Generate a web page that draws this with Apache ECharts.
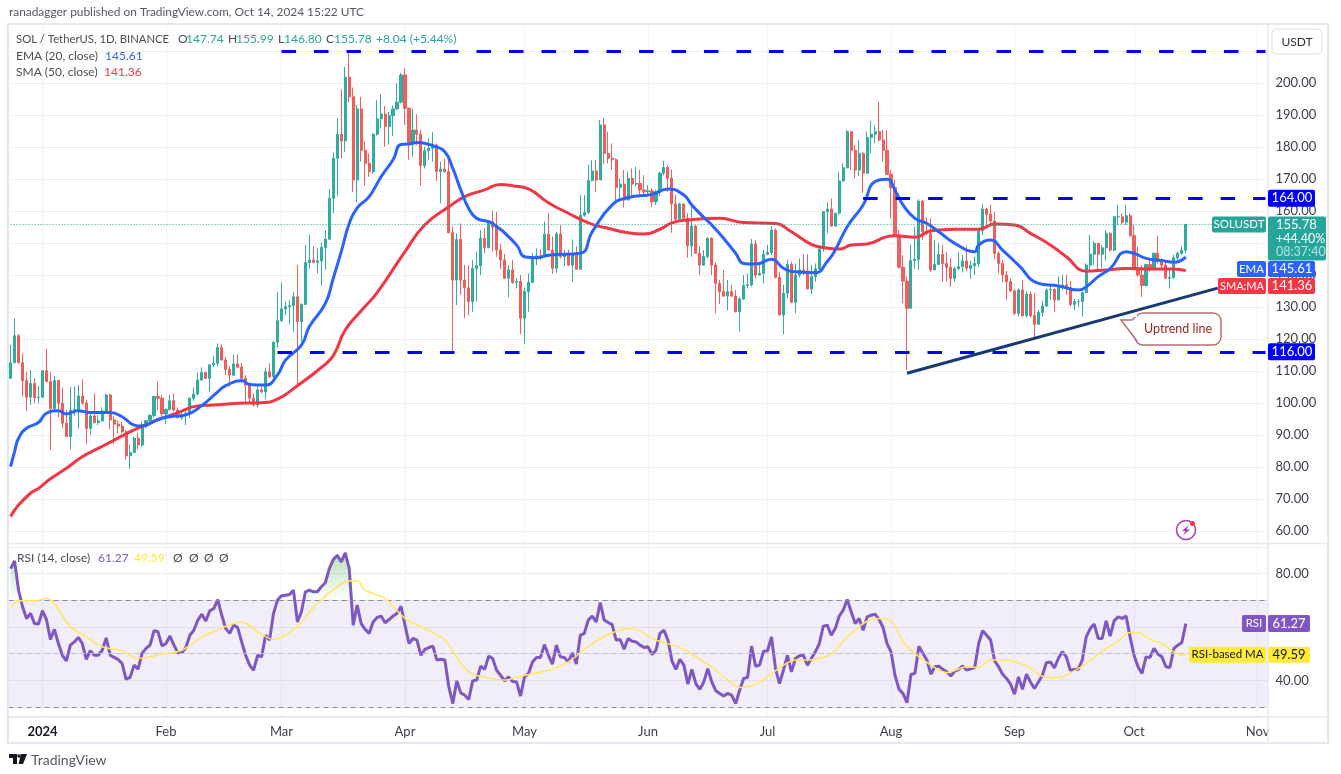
<!DOCTYPE html>
<html>
<head>
<meta charset="utf-8">
<style>
  html, body { margin: 0; background: #fff; }
  #chart { width: 1341px; height: 774px; }
</style>
<script src="https://cdn.jsdelivr.net/npm/echarts@6/dist/echarts.min.js"></script>
</head>
<body>
<div id="chart"></div>
<script>
// SOL / USDT daily, first candle is 2023-12-24
const firstOpen = 107.7
const closes = [
  112.6,121,112.6,107,101.8,106.1,101.7,101.8,110.1,106.7,
  98.3,107,99.9,93.7,89.5,97.8,98,102.2,100,92.1,
  95.9,93.9,94.4,97.5,102.5,94.7,93.4,92.8,91,83.5,
  84.5,89,86.9,93.1,94.5,96.1,102,101.5,96.6,98,
  100.7,97.8,95.4,96.1,96.8,101.5,102.8,107.2,109.5,107.7,
  111.9,112.4,117.3,113.4,110.5,108.7,112.2,111.2,107.7,105.6,
  101.5,99.4,104.1,103.5,109.8,108.2,119,125.7,129.4,130.1,
  130.4,133.2,125.4,130.8,143.9,144.7,144,144.4,148.6,151.2,
  164,176.5,184,181.9,201.8,195.7,169.7,191.9,179,174.9,
  172.3,184,188.8,190.3,186.4,189.8,191.9,194,202.5,192.1,
  181.1,185.3,184,174.2,178.8,179.6,180.6,172.3,173.1,172.3,
  153.2,138.4,151.1,138.4,136,131.7,142.1,142.9,151.5,148.6,
  156.7,154.9,147.8,144.7,139,141.6,137.7,138,126.5,134.8,
  137.7,145.2,146,145.7,152.7,147.8,142.1,152.8,145.7,146.2,
  143.1,146.2,141.8,158.7,159.5,169.5,172.5,169.7,186.9,178,
  176.5,176,167.4,168.4,163.4,170.2,168.4,168.6,166.6,166,
  166.3,162.9,166,171.8,173.6,170.2,162.2,157.4,162.2,157.7,
  149.1,155.3,146.8,143.1,145.8,151.5,143.1,137.4,134.8,133.4,
  134.8,133.4,128.5,132.5,136.7,136.9,149.7,140,140.5,146.5,
  147,154,139.2,127.5,134.3,143.3,131.5,140,141.6,141.3,
  135.6,139.5,141.9,148.1,159.8,160.6,155.3,159.3,169.4,173.5,
  184.8,179,172.8,178,171.8,183,184,184.8,182.2,179,
  171.5,167.3,152.5,142.4,138.1,129.6,144.5,144.9,163.1,153.5,
  153,141.6,143.3,146.4,143.6,142.4,139,142,142.6,144.4,
  142.1,142.9,143.6,153.8,160.6,159,156.9,146.8,143.6,140,
  137.9,135,128,135.3,127.3,134,127.3,124.6,128.3,130.3,
  135.3,135.5,132.2,136.4,136.9,136,130.8,131.7,131.7,134.5,
  143.1,146.5,149.9,146.5,148.5,153,147.8,158.2,158.2,156.5,
  158.5,152.3,142.3,140,136.7,143.3,141.9,146.8,144.2,143.1,
  139,139.2,145.4,146.8,147.74,155.78
]
const highs = [
  118.1,126.5,121.6,115.5,109.8,110.3,107.7,105.3,110.2,116.8,
  109.8,108.4,107.2,104.8,97.8,105.1,105.1,105.6,107.4,101,
  96.8,103,96.2,98.6,103,103,95.9,94.7,94.2,91.6,
  86.9,89.5,90.7,94.2,94.7,96.6,102.2,106.7,102.5,98.3,
  102.5,103,98.6,97.8,97.3,101.7,104.9,109.5,111.1,109.8,
  112.2,114.8,118.6,118.3,114.3,111.5,115,115.2,112.4,108.7,
  106.4,103,106,105.3,111,112.4,119.2,134.6,137.7,131.7,
  132.2,134.8,143.1,131.1,149.4,152.7,149,148.3,150.1,154,
  166.8,178.3,189,198,205.1,210,198.6,193.1,195.7,181.7,
  178,184.2,194.7,196.5,192.8,191,192.9,199.9,203.2,204.6,
  192.3,191.9,190.2,185.3,180.1,182.7,184.6,181.1,175.4,176.3,
  176,155.1,153,156.1,143.1,143.1,144.7,147.3,154,154.6,
  157.2,160.1,159.8,149.7,146.6,143.1,144.7,139,140,136.1,
  140.5,146.8,148.3,148,156.7,159.3,152,153.4,155.6,147.8,
  147.8,151.1,149,165,165,174.4,175.9,175.9,188.4,189,
  184.8,181.1,176.5,170.2,172.8,172.3,173.3,173.8,172.8,171.2,
  168.1,167.1,166.6,172.3,175.7,174.4,173,165,162.6,162.4,
  159.3,161.9,155.6,149,147.8,151.7,151.8,143.9,138.5,141.6,
  138.4,136.9,135.3,133.2,140,140.5,151.3,150.9,143.6,147.8,
  149.4,155.3,154.6,141,136.9,144.7,144.2,143.6,145.2,146.5,
  146.5,143.1,143.6,148.5,160,162.7,163.9,159.3,172.3,174.9,
  185.3,185,180.6,182.2,178.3,184.8,188.1,186.7,194.2,185.3,
  185.3,172.8,169.7,154,146.2,139.5,149.4,155.1,163.7,163.4,
  158,157.7,150.9,149.9,149.4,147.3,145.2,142.6,147.3,146.3,
  148.9,144.5,145.7,154.1,162.1,161,161.9,159.8,147.3,144.7,
  141.3,139,135.6,135.8,138.4,135,134.8,134.3,129.1,131.9,
  135.8,136.9,135.8,139.5,140,140,138.1,132.5,132.5,134.8,
  143.6,152.5,150.6,149.9,149.4,154.1,153.3,158.3,161.9,159.3,
  161.9,159.3,155.6,148.9,143.1,143.6,145.2,146.8,152.3,145.2,
  144.7,141.9,146.3,147.3,148.9,155.99
]
const lows = [
  107.7,112.4,112.4,102,97.5,99.4,99.9,99.9,101.8,106.4,
  85.3,97.3,95.5,92.1,89.5,85.5,96,92,99.3,87.2,
  90,93.6,93.1,94.2,96.8,91.8,87.2,90.5,90.7,82.2,
  79.4,85.3,85.5,86.3,92.1,93.4,95.5,97.8,95.7,93.4,
  97.6,97.3,95.2,94.7,93.1,95.2,100.7,102.5,107,107.5,
  103.5,111.2,111.4,113.4,108.7,105.1,108.4,110.8,106.2,100.4,
  99.9,98.9,98.6,103,101.2,107.7,107.6,117.3,125.4,127.5,
  124.6,122.3,105.6,119.2,130.6,142,143.6,140.5,136.7,141.6,
  151,159.3,164.8,176.5,178.5,194,166,162.7,175.4,167.9,
  170.7,171.5,183.5,185.8,180.1,180.8,183.5,191.6,193.6,186.9,
  176,177,180.6,167.9,173.3,176,175.4,169.4,162.4,172,
  153,116,130.6,133.8,126.5,127.5,128.5,131.7,140,146.8,
  148.3,147.3,145.7,141.8,138.9,133,137.2,135.8,121.6,118.4,
  128.5,137.4,143.1,144.7,145.5,147.8,140.3,140.7,145.2,142.8,
  142.8,137.9,141.8,141.6,158.2,159.1,169.2,166,169.7,174.7,
  174.9,172.8,162.4,163.6,161.1,163.4,165,167.6,164.7,164.7,
  164.5,161.3,161.9,164.7,171.2,166,153.2,156.3,157.2,157.7,
  145.4,145.7,146.8,140,142.8,145.2,140,128,130.9,133.2,
  129,133.2,128.3,122.3,132.2,135.8,136.4,138.9,139.8,137.4,
  146.2,146.2,139,127.5,121.5,132.7,131.2,128,139.2,140,
  135.6,134,137.9,141.6,147.3,153,155.1,155.1,158.8,169,
  173.3,172.8,170.2,170.9,165.7,171.6,178,181.2,181.7,175.4,
  171.2,157.7,152.3,142.1,131.2,110.3,129.6,142,141.6,151,
  152.5,141,141.5,143.6,137.9,137.9,136.3,137.9,141.6,140.8,
  141.3,138.8,140,142.6,152.5,154.6,156.1,145,140.5,137.7,
  132.2,134.8,127.5,127,127,126.7,126.7,120.2,124.4,127,
  130.1,132.2,128.5,132.2,135.3,133.8,130.1,129,130.1,127,
  134.3,141.6,143.1,141.6,142.3,144.5,147.3,147.5,155.6,155.8,
  155.6,152,141.9,139.5,133.2,136.4,141,141.6,143.6,141.9,
  138.8,135.8,138.8,144.7,146.2,146.8
]

// moving averages, read at the turning points of each curve (candle index, value)
const emaDays = [0,1,2,4,7,9,12,14,17,20,25,28,31,33,37,40,44,48,52,54,58,60,64,67,69,73,75,79,81,83,85,87,90,93,96,98,100,102,106,109,111,113,115,117,121,127,129,132,135,143,146,151,155,161,165,169,171,174,176,179,182,184,187,191,194,197,202,205,207,210,214,217,220,222,224,227,230,233,237,242,243,246,249,253,258,263,268,270,273,276,280,282,285,289,292,295]
const emaVals = [80.1,84.8,89,92.1,93.9,96.8,97.6,96.6,97.6,97,97,95.7,93.1,92.8,94.9,95.7,96.3,99.2,103.5,105.4,107,105.8,105.6,108.8,113.4,118.1,123.9,131.1,139,147.3,156.1,161,164.5,170.7,176,180.8,180.9,181.4,180.4,178.5,173.3,166.6,160.8,157.7,156.1,149.4,145.7,145.4,146.2,146.8,153.5,161.9,164.2,165.2,166.9,165,161.9,158,155.6,151.4,146.8,143.6,143.4,144.9,142.1,141,140.7,144.2,147.8,155.1,161.9,169.2,169.9,166.5,161.9,157.7,156.1,153.5,149.9,147.3,149.4,150.9,147.8,143.1,137.4,136.6,135.3,136.3,139.5,142,147.3,146.8,145.2,144.5,144,145.61]
const smaDays = [0,2,5,7,10,14,18,22,26,31,37,42,47,51,57,63,67,72,78,81,84,88,92,99,104,110,114,119,123,126,130,135,140,146,150,155,159,163,166,170,178,184,192,196,201,204,208,211,215,220,222,227,231,237,243,247,252,256,261,265,270,275,280,285,292,295]
const smaVals = [64.5,68.1,71.8,73.3,76.3,79.6,83.2,85.8,88.4,91.6,94.7,97,99.1,99.4,99.9,100.1,101.2,105.4,111.1,114.8,122.8,128.8,134.5,147.3,155.7,161.3,164.5,166.6,168.3,167.9,166.9,162.6,159.3,155.8,154.6,153.2,152.8,154.3,156.3,157.2,157.7,156.4,156.1,153.5,149.6,148.6,148.1,149.4,149.7,152,152.3,151.8,153.8,154.3,154.3,155.9,155.6,153,149.4,145.7,141.2,141.6,142,141.9,141.9,141.36]

// RSI (14), one value per candle
const rsiVals = [
  81.9,84.8,73.8,67.6,63.2,65.1,61.3,61.1,66.1,62.8,
  55.3,59.1,53.8,49.4,47.3,53.2,54.4,56.1,53.8,47.9,
  51.1,49.4,49.4,51.3,55.9,49.4,48.6,47.8,46.3,40.4,
  41.1,45.7,44.2,50.1,52,53.2,58.6,58.2,52.9,53.8,
  56.6,53.2,50.3,50.4,52.3,56.9,58.8,62.6,64.8,62.3,
  66.1,66.9,70.3,64.4,59.4,57.6,60.7,59.8,54.4,49.4,
  45.7,43.8,49.4,48.8,56.9,55.1,65.1,70.1,71.7,71.9,
  72.2,73.8,61.9,65.7,73.2,73.8,73.2,73.2,75.1,76.6,
  81.9,85.3,86.9,84.4,87.8,81.9,60.7,68.2,61.3,59.1,
  57.6,61.9,63.6,64.1,61.6,62.8,64.1,65.1,67.8,60.7,
  53.8,55.7,55.1,49.4,51.6,52.3,52.8,47.6,47.9,47.6,
  37.6,31.3,39.8,35.3,34.4,32.8,39.8,40.1,45.3,44.1,
  49.1,48.2,43.8,41.9,39.8,41.3,39.6,39.4,34.1,41.3,
  42.6,46.9,48.6,48.6,53.4,49.4,46.1,53.2,48.8,48.6,
  46.9,50.3,46.1,56.9,57.6,62.6,64.1,61.9,69.2,62.6,
  61.7,60.9,55.1,55.3,51.7,55.7,54.7,54.4,53.2,52.3,
  52.6,49.7,51.3,57.6,58.8,55.1,47.3,44.1,47.9,45.7,
  38.6,44.1,38.8,36.6,39.4,44.4,39.4,36.1,35.1,34.1,
  35.1,34.4,31.3,36.3,40.7,41.1,52.8,45.3,45.7,50.9,
  51.1,56.3,44.4,38.8,43.8,49.4,43.2,48.2,49.2,49.4,
  45.7,48.2,50.7,53.8,60.3,60.7,56.9,59.4,64.1,66.3,
  70.3,65.7,61.3,63.2,58.8,63.8,64.4,64.8,62.8,59.8,
  53.8,50.7,41.9,36.7,35.1,31.6,42.2,42.6,52.8,50.1,
  47.6,42.3,45.1,45.3,44.1,43.2,41.6,43.4,44.1,45.4,
  43.8,44.3,44.8,53.8,58.6,56.9,55.1,47.3,45.1,42.3,
  40.7,38.6,34.8,41.3,36.6,42.3,39.4,36.9,39.4,41.9,
  46.6,46.9,44.7,48.2,50.7,48.8,43.8,44.1,44.1,47.6,
  56.3,59.4,61.1,55.7,55.7,62.3,56.6,62.3,63.8,63.2,
  64.1,56.3,49.4,45.1,42.6,48.8,48.6,52,49.8,48.8,
  45.1,44.8,52,53.2,54.2,61.27
]
const maDays = [0,2,6,9,11,15,19,23,28,32,38,43,48,51,54,58,62,66,72,77,84,87,89,94,99,105,109,113,116,120,124,128,135,140,145,150,156,162,168,174,176,180,183,185,189,192,197,200,206,210,217,221,224,227,231,235,240,243,246,250,255,260,263,268,273,278,281,283,286,289,292,294,295]
const maVals = [67.2,69.8,69.8,70.7,68.8,60.1,56.3,52.6,51.1,48.2,49.8,51.3,56.3,58.2,60.3,61.9,58.2,55.3,60.3,68.8,76.9,77.3,73.8,70.7,63.2,58.6,55.1,46.5,42.3,40.9,40.1,41.6,43.8,46.9,52.6,57.2,59.4,55.1,52.3,46.9,45.1,40.1,37.3,37.6,40.1,43.6,47.6,47.6,49.8,56.3,63.2,62.3,54.4,50,45.7,42.9,45.1,44.8,47.6,47.6,45.4,41.1,41.1,44.4,49.8,54.8,57.9,57.9,55.3,53.8,50.7,49.4,49.59]

// horizontal levels and trend line drawn on the chart (candle index, price)
const resistanceTop = 210
const resistanceMid = 164
const supportLevel = 116
const trendStart = [225, 109.3]
const trendEnd = [303, 135.9]
const lastPrice = 155.78

const monthNames = { '2024-01-01': '2024', '2024-02-01': 'Feb', '2024-03-01': 'Mar', '2024-04-01': 'Apr', '2024-05-01': 'May', '2024-06-01': 'Jun', '2024-07-01': 'Jul', '2024-08-01': 'Aug', '2024-09-01': 'Sep', '2024-10-01': 'Oct', '2024-11-01': 'Nov' }

// category axis runs a little past the last candle, up to Nov 3
const dates = []
for (let t = Date.UTC(2023, 11, 24), n = 0; n < 316; n++, t += 86400000) {
    dates.push(new Date(t).toISOString().slice(0, 10))
}
const lastIdx = dates.length - 1

const opens = closes.map((c, i) => (i === 0 ? firstOpen : closes[i - 1]))
const candles = closes.map((c, i) => [opens[i], c, lows[i], highs[i]])
const zip = (xs, ys) => xs.map((x, i) => [x, ys[i]])

const FONT = 'Lato, "Noto Sans", sans-serif'
const GRID = '#f2f3f6'
const FRAME = '#e6e8ef'
const TEAL = '#26a69a'
const RED = '#ef5350'
const LEVEL = '#0000ff'

const left = 8.6
const width = 1258.9
const isMonth = (i, v) => v in monthNames

const chart = echarts.init(document.getElementById('chart'), null, { renderer: 'canvas' })

const option = {
    animation: false,
    backgroundColor: '#fff',
    grid: [
        { left, width, top: 51, height: 480 },
        { left, width, top: 547, height: 160 },
        { left, width, top: 24, height: 693 },
    ],
    xAxis: [
        { type: 'category', gridIndex: 0, data: dates, show: false },
        { type: 'category', gridIndex: 1, data: dates, show: false },
        {
            type: 'category',
            gridIndex: 2,
            data: dates,
            axisLine: { lineStyle: { color: FRAME, width: 2 } },
            axisTick: { show: false },
            axisLabel: {
                interval: isMonth,
                formatter: (v) => (monthNames[v] === '2024' ? '{y|2024}' : monthNames[v] || ''),
                color: '#3c3f4a',
                fontFamily: FONT,
                fontSize: 13,
                margin: 8,
                rich: { y: { fontWeight: 'bold', fontFamily: FONT, fontSize: 13, color: '#131722' } },
            },
            splitLine: { show: true, interval: isMonth, alignWithLabel: true, lineStyle: { color: GRID, width: 1 } },
        },
    ],
    yAxis: [
        {
            type: 'value',
            gridIndex: 0,
            position: 'right',
            min: 60,
            max: 210,
            interval: 10,
            axisLine: { show: false },
            axisTick: { show: false },
            axisLabel: {
                formatter: (v) => (v === 210 ? '' : v.toFixed(2)),
                color: '#3c3f4a',
                fontFamily: FONT,
                fontSize: 13,
                margin: 8,
            },
            splitLine: { lineStyle: { color: GRID } },
        },
        {
            type: 'value',
            gridIndex: 1,
            position: 'right',
            min: 30,
            max: 90,
            interval: 10,
            axisLine: { show: false },
            axisTick: { show: false },
            axisLabel: {
                formatter: (v) => (v === 40 || v === 80 ? v.toFixed(2) : ''),
                color: '#3c3f4a',
                fontFamily: FONT,
                fontSize: 13,
                margin: 8,
            },
            splitLine: { lineStyle: { color: '#ebecf2' } },
        },
        { type: 'value', gridIndex: 2, min: 0, max: 1, show: false },
    ],
    series: [
        {
            name: 'SOLUSDT',
            type: 'candlestick',
            xAxisIndex: 0,
            yAxisIndex: 0,
            barWidth: 2.6,
            z: 3,
            data: candles,
            itemStyle: { color: TEAL, color0: RED, borderColor: TEAL, borderColor0: RED, borderWidth: 1, opacity: 0.92 },
            markLine: {
                silent: true,
                symbol: 'none',
                animation: false,
                label: { show: false },
                lineStyle: { type: [14.5, 18], width: 3, color: LEVEL },
                data: [
                    [{ coord: [68, resistanceTop] }, { coord: [lastIdx, resistanceTop] }],
                    [{ coord: [214, resistanceMid] }, { coord: [lastIdx, resistanceMid] }],
                    [{ coord: [67, supportLevel] }, { coord: [lastIdx, supportLevel] }],
                    [
                        { coord: trendStart, lineStyle: { type: 'solid', width: 3, color: '#173a73' } },
                        { coord: trendEnd },
                    ],
                    [
                        { coord: [0, lastPrice], lineStyle: { type: [1, 2], width: 1, color: TEAL } },
                        { coord: [lastIdx, lastPrice] },
                    ],
                ],
                z: 6,
            },
        },
        {
            name: 'SMA',
            type: 'line',
            xAxisIndex: 0,
            yAxisIndex: 0,
            data: zip(smaDays, smaVals),
            smooth: 0.5,
            showSymbol: false,
            z: 4,
            lineStyle: { color: '#f23645', width: 3 },
        },
        {
            name: 'EMA',
            type: 'line',
            xAxisIndex: 0,
            yAxisIndex: 0,
            data: zip(emaDays, emaVals),
            smooth: 0.5,
            showSymbol: false,
            z: 5,
            lineStyle: { color: '#2962ff', width: 3 },
        },
        {
            name: 'RSI over 70',
            type: 'line',
            xAxisIndex: 1,
            yAxisIndex: 1,
            data: rsiVals.map((v) => Math.max(v, 70)),
            showSymbol: false,
            z: 2,
            lineStyle: { width: 0 },
            areaStyle: {
                origin: 70,
                color: new echarts.graphic.LinearGradient(0, 0, 0, 1, [
                    { offset: 0, color: 'rgba(76,175,80,0.55)' },
                    { offset: 1, color: 'rgba(76,175,80,0.02)' },
                ]),
            },
        },
        {
            name: 'RSI',
            type: 'line',
            xAxisIndex: 1,
            yAxisIndex: 1,
            data: rsiVals,
            showSymbol: false,
            z: 4,
            lineStyle: { color: '#7e57c2', width: 3 },
            markArea: {
                silent: true,
                itemStyle: { color: 'rgba(126,87,194,0.1)' },
                data: [[{ yAxis: 70 }, { yAxis: 30 }]],
            },
            markLine: {
                silent: true,
                symbol: 'none',
                label: { show: false },
                lineStyle: { type: [5, 4], width: 1, color: '#8a8d97' },
                data: [
                    { yAxis: 70 },
                    { yAxis: 50, lineStyle: { color: '#c4c5cc' } },
                    { yAxis: 30 },
                ],
            },
        },
        {
            name: 'RSI-based MA',
            type: 'line',
            xAxisIndex: 1,
            yAxisIndex: 1,
            data: zip(maDays, maVals),
            smooth: 0.3,
            showSymbol: false,
            z: 5,
            lineStyle: { color: '#ffe85c', width: 1.5 },
        },
    ],
}
chart.setOption(option)

// text and boxes around the plot
const txt = (x, y, text, fill, size = 12, align = 'left') => ({
    type: 'text',
    x,
    y,
    z: 50,
    style: { text, fill, font: `${size}px ${FONT}`, align, verticalAlign: 'middle' },
})
const box = (x, y, w, h, fill, r = 2) => ({
    type: 'rect',
    z: 49,
    shape: { x, y, width: w, height: h, r },
    style: { fill },
})
const priceY = (v) => chart.convertToPixel({ yAxisIndex: 0 }, v)
const rsiY = (v) => chart.convertToPixel({ yAxisIndex: 1 }, v)

const HEAD = '#4a4d57'
const g = []

g.push(txt(9, 12, 'ranadagger published on TradingView.com, Oct 14, 2024 15:22 UTC', '#555862', 11.9))

// outer frame and pane separators
g.push({ type: 'rect', z: 40, shape: { x: 8, y: 24, width: 1320, height: 719 }, style: { fill: 'none', stroke: FRAME, lineWidth: 2 } })
g.push({ type: 'line', z: 40, shape: { x1: 8, y1: 543.5, x2: 1328, y2: 543.5 }, style: { stroke: FRAME, lineWidth: 1.5 } })
g.push({ type: 'line', z: 40, shape: { x1: 8, y1: 717, x2: 1328, y2: 717 }, style: { stroke: FRAME, lineWidth: 1.5 } })
g.push({ type: 'line', z: 40, shape: { x1: 1268, y1: 24, x2: 1268, y2: 743 }, style: { stroke: FRAME, lineWidth: 1.5 } })

// USDT button
g.push({ type: 'rect', z: 49, shape: { x: 1272, y: 29, width: 50, height: 25, r: 4 }, style: { fill: '#fff', stroke: '#dfe1e8', lineWidth: 1 } })
g.push(txt(1297, 42, 'USDT', '#2a2e39', 12, 'center'))

// legend rows
g.push(txt(16, 39, 'SOL / TetherUS, 1D, BINANCE', HEAD, 11.3))
g.push(txt(178, 39, 'O', HEAD), txt(186, 39, '147.74', TEAL))
g.push(txt(228, 39, 'H', HEAD), txt(236, 39, '155.99', TEAL))
g.push(txt(278, 39, 'L', HEAD), txt(284, 39, '146.80', TEAL))
g.push(txt(326, 39, 'C', HEAD), txt(334, 39, '155.78', TEAL))
g.push(txt(376, 39, '+8.04 (+5.44%)', TEAL))
g.push(txt(16, 56, 'EMA (20, close)', HEAD), txt(105, 56, '145.61', '#2962ff'))
g.push(txt(16, 72, 'SMA (50, close)', HEAD), txt(104, 72, '141.36', '#f23645'))
g.push(txt(17, 558, 'RSI (14, close)', HEAD), txt(98, 558, '61.27', '#7e57c2'), txt(134, 558, '49.59', '#ffeb3b'))
g.push(txt(173, 558, 'Ø', HEAD), txt(189, 558, 'Ø', HEAD), txt(204, 558, 'Ø', HEAD), txt(219, 558, 'Ø', HEAD))

// price scale tags
const levelTag = (v) => {
    const y = priceY(v)
    g.push(box(1268, y - 8.5, 47, 17, LEVEL), txt(1292, y, v.toFixed(2), '#fff', 13, 'center'))
}
levelTag(resistanceMid)
levelTag(supportLevel)

const yLast = priceY(lastPrice)
g.push(box(1212, yLast - 8, 54, 16, TEAL), txt(1239, yLast, 'SOLUSDT', '#fff', 11.5, 'center'))
g.push(box(1268, yLast - 8, 58, 44, TEAL))
g.push(txt(1276, yLast, lastPrice.toFixed(2), '#fff', 13))
g.push(txt(1276, yLast + 14, '+44.40%', '#fff', 12.5))
g.push(txt(1276, yLast + 27, '08:37:40', '#b9e3de', 12.5))

g.push(box(1237, 261, 29, 16, '#2962ff'), txt(1251.5, 269, 'EMA', '#fff', 11.5, 'center'))
g.push(box(1268, 261, 47, 16, '#2962ff'), txt(1292, 269, '145.61', '#fff', 13, 'center'))
g.push(box(1218, 278, 48, 16, '#f23645'), txt(1242, 286, 'SMA:MA', '#fff', 11, 'center'))
g.push(box(1268, 278, 47, 16, '#f23645'), txt(1292, 286, '141.36', '#fff', 13, 'center'))

const yRsi = rsiY(61.27)
g.push(box(1242, yRsi - 8.5, 24, 17, '#7e57c2'), txt(1254, yRsi, 'RSI', '#fff', 11.5, 'center'))
g.push(box(1268, yRsi - 8.5, 42, 17, '#7e57c2'), txt(1289, yRsi, '61.27', '#fff', 13, 'center'))
const yMa = rsiY(49.59)
g.push(box(1189, yMa - 8, 77, 16, '#ffeb3b'), txt(1227.5, yMa, 'RSI-based MA', '#131722', 11.5, 'center'))
g.push(box(1268, yMa - 8, 42, 16, '#ffeb3b'), txt(1289, yMa, '49.59', '#131722', 13, 'center'))

// callout on the trend line
const NOTE = '#b5706c'
g.push({ type: 'rect', z: 47, shape: { x: 1135, y: 313, width: 86, height: 32, r: 8 }, style: { fill: '#fff', stroke: NOTE, lineWidth: 1.5 } })
g.push({ type: 'polygon', z: 48, shape: { points: [[1137, 315], [1121, 320], [1137, 341]] }, style: { fill: '#fff' } })
g.push({ type: 'polyline', z: 48, shape: { points: [[1135.5, 317], [1132, 320], [1121, 320], [1137, 341]] }, style: { fill: 'none', stroke: NOTE, lineWidth: 1.5 } })
g.push(txt(1178, 329, 'Uptrend line', '#a31f1f', 12.5, 'center'))

// lightning badge
g.push({ type: 'circle', z: 48, shape: { cx: 1186, cy: 530, r: 9.5 }, style: { fill: '#fff', stroke: '#a63cc4', lineWidth: 1.6 } })
g.push({ type: 'polygon', z: 49, shape: { points: [[1189, 525], [1182, 531], [1185.5, 531], [1183, 535.5], [1190, 529.5], [1186.5, 529.5]] }, style: { fill: '#a63cc4' } })
g.push({ type: 'circle', z: 49, shape: { cx: 1192.5, cy: 523.5, r: 2.5 }, style: { fill: '#f23645' } })

// footer logo
g.push({ type: 'polygon', z: 50, shape: { points: [[9, 754], [17, 754], [17, 764], [13, 764], [13, 758], [9, 758]] }, style: { fill: '#131722' } })
g.push({ type: 'polygon', z: 50, shape: { points: [[21, 754], [27, 754], [23, 764], [18.5, 764]] }, style: { fill: '#131722' } })
g.push({ type: 'circle', z: 50, shape: { cx: 19, cy: 756, r: 1.8 }, style: { fill: '#131722' } })
g.push(txt(31, 760, 'TradingView', '#555862', 14))

chart.setOption({ graphic: g })
</script>
</body>
</html>
